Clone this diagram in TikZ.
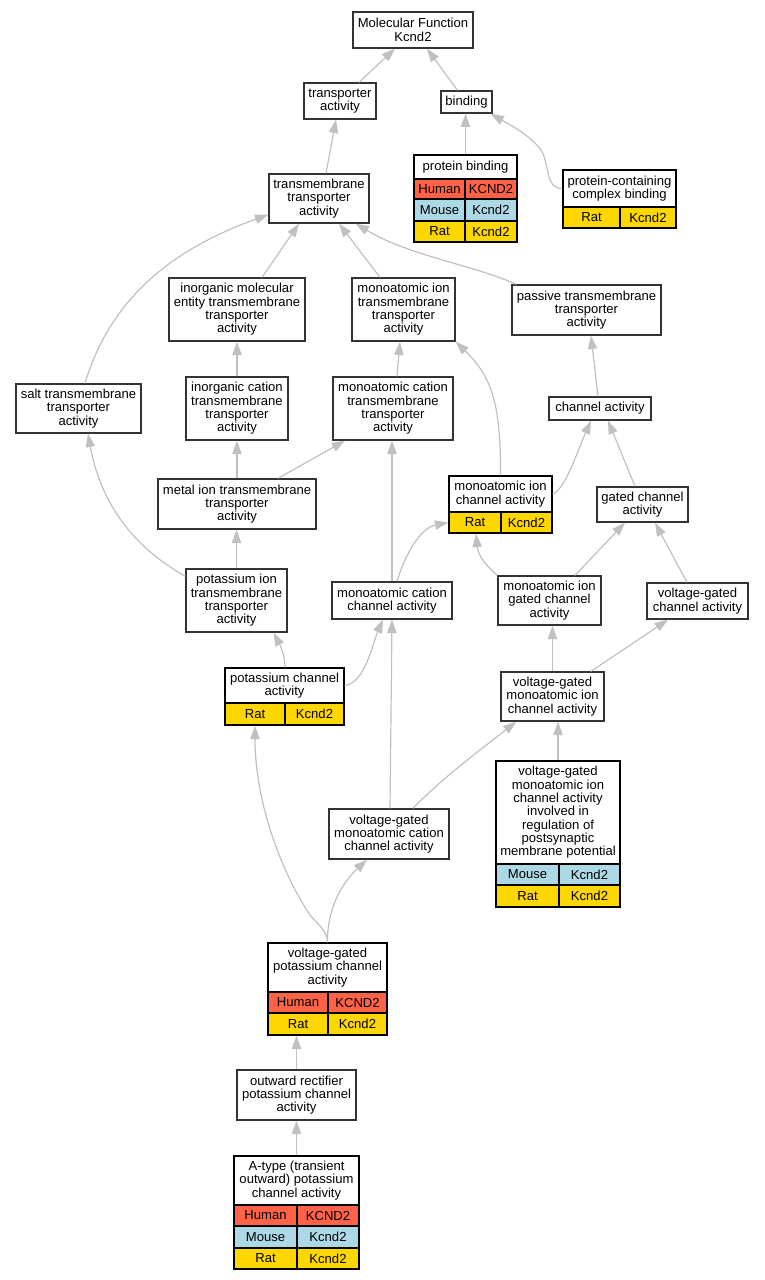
\documentclass[tikz,border=0pt]{standalone}
\usepackage{fontspec}
\setmainfont{Liberation Sans}
\usetikzlibrary{calc,arrows.meta}
\definecolor{human}{HTML}{FF6347}
\definecolor{mouse}{HTML}{ADD8E6}
\definecolor{rat}{HTML}{FFD700}
\definecolor{edgegray}{HTML}{C0C0C0}
\definecolor{boxline}{HTML}{333333}
\tikzset{
  lbl/.style={font=\fontsize{9.8}{10}\selectfont, align=center, inner sep=0pt},
  box/.style={lbl, draw=boxline, line width=1pt, fill=white},
  cell/.style={lbl, draw=black, line width=1pt},
  edge/.style={draw=edgegray, line width=0.9pt, -{Triangle[length=10pt,width=7pt]}},
}
% name, style, x1, y1, x2, y2, text
\newcommand{\bx}[7]{\node[#2, minimum width={(#5-#3)*0.75pt}, minimum height={(#6-#4)*0.75pt}] (#1) at ({(#3+#5)/2},{(#4+#6)/2}) {#7};}
\begin{document}
\begin{tikzpicture}[x=0.75pt,y=-0.75pt]
\useasboundingbox (0,0) rectangle (764,1280);
% plain boxes
\bx{mf}{box}{353}{12}{473}{48}{Molecular Function\\Kcnd2}
\bx{ta}{box}{304}{83}{376}{119}{transporter\\activity}
\bx{bind}{box}{441}{91}{492}{113}{binding}
\bx{tta}{box}{269}{174}{369}{223}{transmembrane\\transporter\\activity}
\bx{imett}{box}{169}{278}{305}{341}{inorganic molecular\\entity transmembrane\\transporter\\activity}
\bx{mitt}{box}{352}{278}{455}{341}{monoatomic ion\\transmembrane\\transporter\\activity}
\bx{ptt}{box}{512}{285}{661}{335}{passive transmembrane\\transporter\\activity}
\bx{stt}{box}{16}{384}{141}{433}{salt transmembrane\\transporter\\activity}
\bx{ictt}{box}{186}{377}{288}{440}{inorganic cation\\transmembrane\\transporter\\activity}
\bx{mctt}{box}{333}{377}{453}{440}{monoatomic cation\\transmembrane\\transporter\\activity}
\bx{ca}{box}{549}{397}{651}{420}{channel activity}
\bx{gca}{box}{597}{487}{688}{522}{gated channel\\activity}
\bx{metal}{box}{158}{479}{316}{529}{metal ion transmembrane\\transporter\\activity}
\bx{pitt}{box}{186}{569}{287}{632}{potassium ion\\transmembrane\\transporter\\activity}
\bx{mcca}{box}{332}{582}{452}{619}{monoatomic cation\\channel activity}
\bx{migca}{box}{498}{576}{601}{625}{monoatomic ion\\gated channel\\activity}
\bx{vgca}{box}{647}{583}{748}{619}{voltage-gated\\channel activity}
\bx{vgmica}{box}{501}{672}{604}{721}{voltage-gated\\monoatomic ion\\channel activity}
\bx{vgmcca}{box}{329}{809}{449}{859}{voltage-gated\\monoatomic cation\\channel activity}
\bx{orpca}{box}{237}{1070}{356}{1120}{outward rectifier\\potassium channel\\activity}
% table nodes: titles
\bx{pb}{cell,fill=white}{414}{155}{517}{179}{protein binding}
\bx{pccb}{cell,fill=white}{563}{170}{676}{207}{protein-containing\\complex binding}
\bx{mica}{cell,fill=white}{449}{476}{552}{512}{monoatomic ion\\channel activity}
\bx{kca}{cell,fill=white}{225}{668}{344}{703}{potassium channel\\activity}
\bx{vgpost}{cell,fill=white}{496}{761}{620}{864}{voltage-gated\\monoatomic ion\\channel activity\\involved in\\regulation of\\postsynaptic\\membrane potential}
\bx{vgpca}{cell,fill=white}{268}{943}{387}{992}{voltage-gated\\potassium channel\\activity}
\bx{atype}{cell,fill=white}{234}{1156}{359}{1205}{A-type (transient\\outward) potassium\\channel activity}
% table rows
\bx{pb-s1}{cell,fill=human}{414}{179}{465}{199}{Human}
\bx{pb-g1}{cell,fill=human}{465}{179}{517}{199}{KCND2}
\bx{pb-s2}{cell,fill=mouse}{414}{199}{465}{221}{Mouse}
\bx{pb-g2}{cell,fill=mouse}{465}{199}{517}{221}{Kcnd2}
\bx{pb-s3}{cell,fill=rat}{414}{221}{465}{242}{Rat}
\bx{pb-g3}{cell,fill=rat}{465}{221}{517}{242}{Kcnd2}
\bx{pccb-s1}{cell,fill=rat}{563}{207}{620}{228}{Rat}
\bx{pccb-g1}{cell,fill=rat}{620}{207}{676}{228}{Kcnd2}
\bx{mica-s}{cell,fill=rat}{449}{512}{501}{533}{Rat}
\bx{mica-g}{cell,fill=rat}{501}{512}{552}{533}{Kcnd2}
\bx{kca-s}{cell,fill=rat}{225}{703}{285}{725}{Rat}
\bx{kca-g}{cell,fill=rat}{285}{703}{344}{725}{Kcnd2}
\bx{vgpost-s1}{cell,fill=mouse}{496}{864}{559}{885}{Mouse}
\bx{vgpost-g1}{cell,fill=mouse}{559}{864}{620}{885}{Kcnd2}
\bx{vgpost-s2}{cell,fill=rat}{496}{885}{559}{907}{Rat}
\bx{vgpost-g2}{cell,fill=rat}{559}{885}{620}{907}{Kcnd2}
\bx{vgpca-s1}{cell,fill=human}{268}{992}{328}{1013}{Human}
\bx{vgpca-g1}{cell,fill=human}{328}{992}{387}{1013}{KCND2}
\bx{vgpca-s2}{cell,fill=rat}{268}{1013}{328}{1035}{Rat}
\bx{vgpca-g2}{cell,fill=rat}{328}{1013}{387}{1035}{Kcnd2}
\bx{atype-s1}{cell,fill=human}{234}{1205}{297}{1226}{Human}
\bx{atype-g1}{cell,fill=human}{297}{1205}{359}{1226}{KCND2}
\bx{atype-s2}{cell,fill=mouse}{234}{1226}{297}{1248}{Mouse}
\bx{atype-g2}{cell,fill=mouse}{297}{1226}{359}{1248}{Kcnd2}
\bx{atype-s3}{cell,fill=rat}{234}{1248}{297}{1269}{Rat}
\bx{atype-g3}{cell,fill=rat}{297}{1248}{359}{1269}{Kcnd2}
% edges
\draw[edge] ($(ta.north)+(19,0)$) -- ($(mf.south)+(-18,0)$);
\draw[edge] ($(bind.north)+(-9,0)$) -- ($(mf.south)+(14,0)$);
\draw[edge] ($(tta.north)+(7,0)$) -- ($(ta.south)+(-4,0)$);
\draw[edge] (pb.north) -- (pb.north |- bind.south);
\draw[edge] (pccb.west) .. controls (545,189) and (550,165) .. (541,150) .. controls (530,135) and (510,125) .. ($(bind.south east)+(-2,0)$);
\draw[edge] ($(imett.north)+(25,0)$) -- ($(tta.south)+(-20,0)$);
\draw[edge] ($(mitt.north)+(-23.5,0)$) -- ($(tta.south)+(20,0)$);
\draw[edge] ($(ptt.north west)+(5,0)$) .. controls (470,264) and (410,256) .. ($(tta.south east)+(-14,0)$);
\draw[edge] ($(stt.north)+(6.5,0)$) .. controls (110,300) and (170,250) .. ($(tta.south west)+(0,-9)$);
\draw[edge] (ictt.north) -- (imett.south);
\draw[edge] ($(mctt.north)+(4,0)$) -- ($(mitt.south)+(-3.5,0)$);
\draw[edge] (mica.north) .. controls (501,400) and (490,375) .. (mitt.south east);
\draw[edge] ($(ca.north)+(-2,0)$) -- ($(ptt.south)+(4.5,0)$);
\draw[edge] (mica.east) .. controls (565,490) and (577,452) .. ($(ca.south)+(-9,0)$);
\draw[edge] ($(gca.north)+(-7.5,0)$) -- ($(ca.south)+(8,0)$);
\draw[edge] (metal.north) -- (ictt.south);
\draw[edge] ($(metal.north)+(41,0)$) -- ($(mctt.south)+(-48,0)$);
\draw[edge] (pitt.north) -- (pitt.north |- metal.south);
\draw[edge] ($(pitt.north west)+(0,8)$) .. controls (130,545) and (100,500) .. ($(stt.south)+(9.5,0)$);
\draw[edge] (mcca.north) -- ($(mctt.south)+(-1,0)$);
\draw[edge] ($(mcca.north)+(5,0)$) .. controls (405,555) and (420,528) .. (mica-s.west);
\draw[edge] ($(kca.north)+(0.5,0)$) .. controls (285,655) and (280,645) .. ($(pitt.south)+(37,0)$);
\draw[edge] (kca.east) .. controls (365,683) and (372,645) .. ($(mcca.south)+(-9,0)$);
\draw[edge] ($(vgmcca.north)+(1,0)$) -- (mcca.south);
\draw[edge] (migca.north west) .. controls (485,565) and (478,555) .. ($(mica-s.south)+(1,0)$);
\draw[edge] ($(migca.north)+(25.5,0)$) -- ($(gca.south)+(-17.5,0)$);
\draw[edge] ($(vgca.north)+(-10.5,0)$) -- ($(gca.south)+(12.5,0)$);
\draw[edge] (vgmica.north) -- (vgmica.north |- migca.south);
\draw[edge] ($(vgmica.north)+(38.5,0)$) -- ($(vgca.south)+(-29.5,0)$);
\draw[edge] (vgpost.north) -- (vgpost.north |- vgmica.south);
\draw[edge] ($(vgmcca.north)+(24,0)$) .. controls (440,780) and (480,750) .. ($(vgmica.south west)+(16,0)$);
\draw[edge] (vgpca.north) .. controls (327,930) and (318,925) .. (310,915) .. controls (280,870) and (255,800) .. (kca-s.south);
\draw[edge] (vgpca.north) .. controls (327,905) and (345,880) .. ($(vgmcca.south)+(-22,0)$);
\draw[edge] (orpca.north) -- (orpca.north |- vgpca-s2.south);
\draw[edge] (atype.north) -- (orpca.south);
\end{tikzpicture}
\end{document}
